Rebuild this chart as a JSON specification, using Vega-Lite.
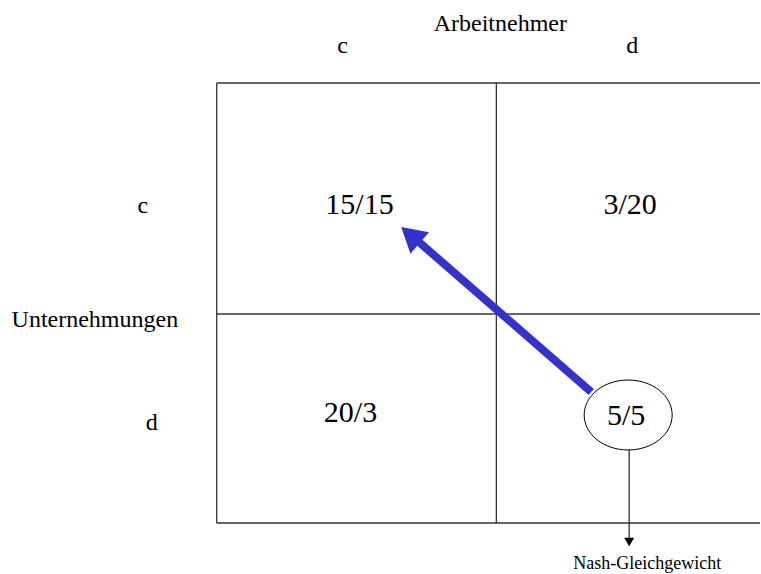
{
  "$schema": "https://vega.github.io/schema/vega-lite/v6.json",
  "width": 761,
  "height": 574,
  "autosize": {"type": "fit", "contains": "padding"},
  "padding": 0,
  "background": "white",
  "config": {"view": {"stroke": null}, "text": {"font": "Liberation Serif, Times New Roman, serif"}},
  "datasets": {
    "grid": [
      {"x": 217, "y": 83, "x2": 761, "y2": 83},
      {"x": 217, "y": 314, "x2": 761, "y2": 314},
      {"x": 217, "y": 523, "x2": 761, "y2": 523},
      {"x": 217, "y": 83, "x2": 217, "y2": 523},
      {"x": 497, "y": 83, "x2": 497, "y2": 523}
    ],
    "payoffs": [
      {"label": "15/15", "x": 360, "y": 214},
      {"label": "3/20", "x": 631, "y": 214},
      {"label": "20/3", "x": 351, "y": 422},
      {"label": "5/5", "x": 627, "y": 425}
    ],
    "headers": [
      {"label": "Arbeitnehmer", "x": 501, "y": 31},
      {"label": "c", "x": 343, "y": 53},
      {"label": "d", "x": 633, "y": 53},
      {"label": "c", "x": 143, "y": 213},
      {"label": "d", "x": 152, "y": 430},
      {"label": "Unternehmungen", "x": 95, "y": 327}
    ],
    "note": [
      {"label": "Nash-Gleichgewicht", "x": 648, "y": 569}
    ],
    "blueShaft": [
      {"x": 592, "y": 392, "x2": 416, "y2": 239}
    ],
    "blueHead": [
      {"x": 411, "y": 235}
    ],
    "ellipse": [
      {"x": 629, "y": 415}
    ],
    "nashShaft": [
      {"x": 630, "y": 450, "x2": 630, "y2": 540}
    ],
    "nashHead": [
      {"x": 630, "y": 542}
    ]
  },
  "layer": [
    {
      "data": {"name": "grid"},
      "mark": {"type": "rule", "color": "#333333", "strokeWidth": 1.3},
      "encoding": {
        "x": {"field": "x", "type": "quantitative", "scale": {"domain": [0, 761], "nice": false, "zero": false}, "axis": null},
        "y": {"field": "y", "type": "quantitative", "scale": {"domain": [0, 574], "nice": false, "zero": false, "reverse": true}, "axis": null},
        "x2": {"field": "x2"},
        "y2": {"field": "y2"}
      }
    },
    {
      "data": {"name": "blueShaft"},
      "mark": {"type": "rule", "color": "#3333cc", "strokeWidth": 8},
      "encoding": {
        "x": {"field": "x", "type": "quantitative"},
        "y": {"field": "y", "type": "quantitative"},
        "x2": {"field": "x2"},
        "y2": {"field": "y2"}
      }
    },
    {
      "data": {"name": "blueHead"},
      "mark": {"type": "point", "shape": "triangle-up", "filled": true, "color": "#3333cc", "opacity": 1, "size": 800, "angle": 311, "strokeWidth": 0},
      "encoding": {
        "x": {"field": "x", "type": "quantitative"},
        "y": {"field": "y", "type": "quantitative"}
      }
    },
    {
      "data": {"name": "nashShaft"},
      "mark": {"type": "rule", "color": "#222222", "strokeWidth": 1.2},
      "encoding": {
        "x": {"field": "x", "type": "quantitative"},
        "y": {"field": "y", "type": "quantitative"},
        "x2": {"field": "x2"},
        "y2": {"field": "y2"}
      }
    },
    {
      "data": {"name": "nashHead"},
      "mark": {"type": "point", "shape": "triangle-down", "filled": true, "color": "#000000", "opacity": 1, "size": 100, "strokeWidth": 0},
      "encoding": {
        "x": {"field": "x", "type": "quantitative"},
        "y": {"field": "y", "type": "quantitative"}
      }
    },
    {
      "data": {"name": "ellipse"},
      "mark": {"type": "point", "shape": "M-1,0A1,0.795,0,1,1,1,0A1,0.795,0,1,1,-1,0Z", "filled": false, "fill": "white", "fillOpacity": 1, "stroke": "#000000", "strokeWidth": 1, "opacity": 1, "size": 7744},
      "encoding": {
        "x": {"field": "x", "type": "quantitative"},
        "y": {"field": "y", "type": "quantitative"}
      }
    },
    {
      "data": {"name": "payoffs"},
      "mark": {"type": "text", "font": "Liberation Serif, Times New Roman, serif", "fontSize": 30, "align": "center", "baseline": "alphabetic", "color": "#000000"},
      "encoding": {
        "x": {"field": "x", "type": "quantitative"},
        "y": {"field": "y", "type": "quantitative"},
        "text": {"field": "label", "type": "nominal"}
      }
    },
    {
      "data": {"name": "headers"},
      "mark": {"type": "text", "font": "Liberation Serif, Times New Roman, serif", "fontSize": 24, "align": "center", "baseline": "alphabetic", "color": "#000000"},
      "encoding": {
        "x": {"field": "x", "type": "quantitative"},
        "y": {"field": "y", "type": "quantitative"},
        "text": {"field": "label", "type": "nominal"}
      }
    },
    {
      "data": {"name": "note"},
      "mark": {"type": "text", "font": "Liberation Serif, Times New Roman, serif", "fontSize": 18, "align": "center", "baseline": "alphabetic", "color": "#000000"},
      "encoding": {
        "x": {"field": "x", "type": "quantitative"},
        "y": {"field": "y", "type": "quantitative"},
        "text": {"field": "label", "type": "nominal"}
      }
    }
  ]
}
